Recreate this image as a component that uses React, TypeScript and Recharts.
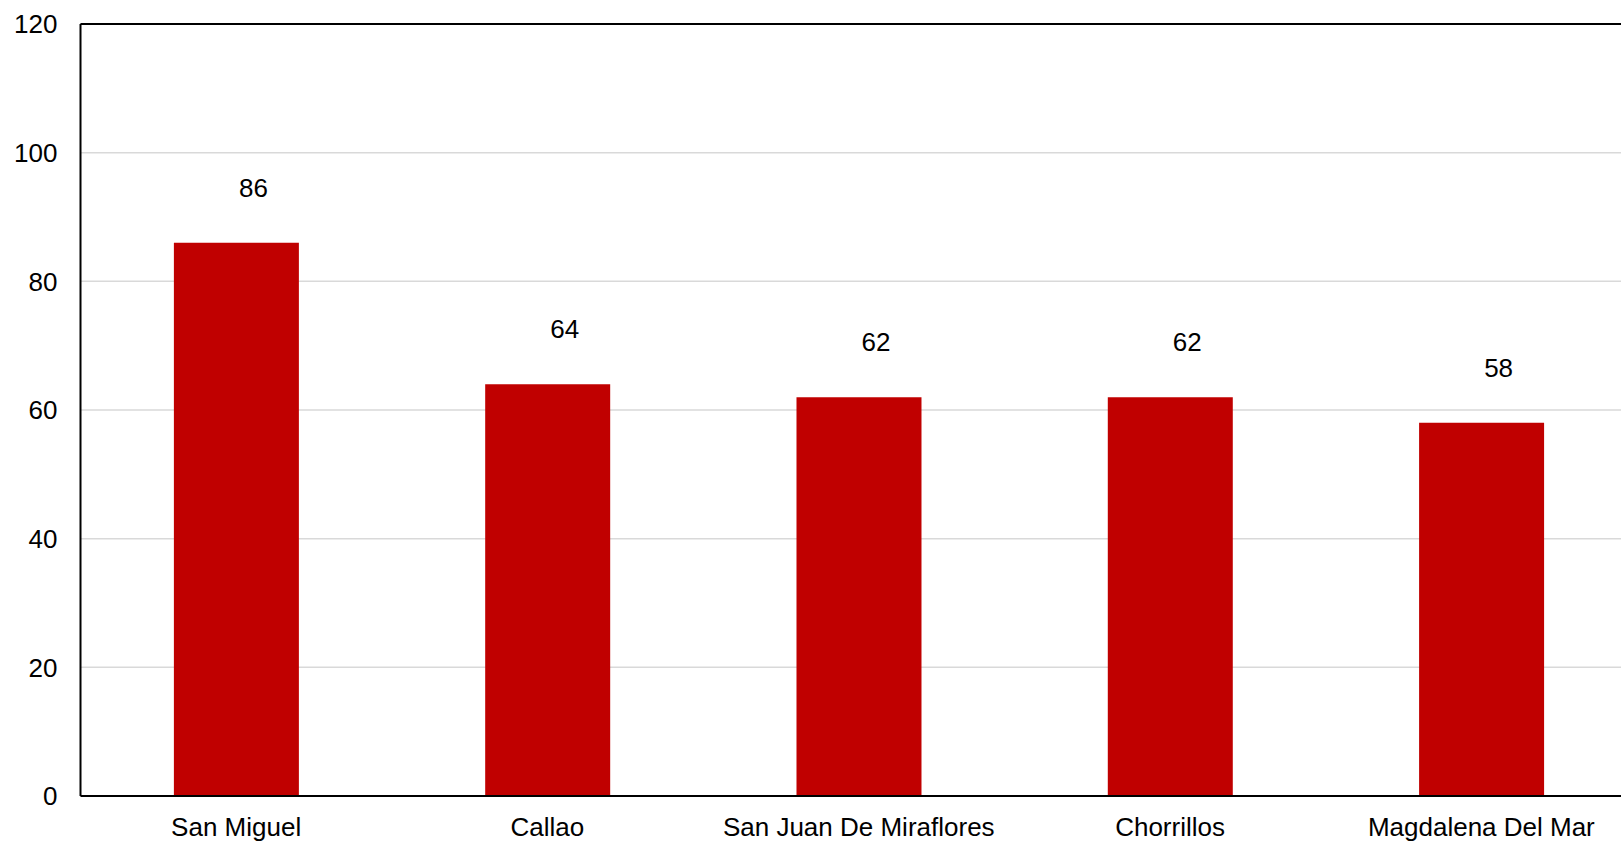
import { BarChart, Bar, XAxis, YAxis, CartesianGrid, ReferenceLine, LabelList } from 'recharts';

const districts = ['San Miguel', 'Callao', 'San Juan De Miraflores', 'Chorrillos', 'Magdalena Del Mar'];
const counts = [86, 64, 62, 62, 58];
const yTicks = [0, 20, 40, 60, 80, 100, 120];

const data = districts.map((name, i) => ({ name, value: counts[i] }));

const FONT = '"Liberation Sans", Arial, sans-serif';

function ValueLabel(props: any) {
  const { x, y, width, value } = props;
  return (
    <text
      x={x + width / 2 + 17}
      y={y - 55}
      textAnchor="middle"
      dominantBaseline="central"
      fontSize={26}
      fontFamily={FONT}
      fill="#000"
    >
      {value}
    </text>
  );
}

export default function App() {
  return (
    <div
      style={{
        position: 'absolute',
        left: 0,
        top: 0,
        width: 1621,
        height: 842,
        overflow: 'hidden',
        background: '#fff',
      }}
    >
      <BarChart
        width={1637}
        height={842}
        data={data}
        margin={{ top: 24, right: 0, bottom: 0, left: 0 }}
        barCategoryGap="30%"
      >
        <CartesianGrid vertical={false} stroke="#d9d9d9" strokeWidth={1.5} />
        <XAxis
          dataKey="name"
          height={46}
          axisLine={{ stroke: '#000', strokeWidth: 2 }}
          tickLine={false}
          tickMargin={16}
          interval={0}
          tick={{ fill: '#000', fontSize: 26, fontFamily: FONT }}
        />
        <YAxis
          width={80.5}
          domain={[0, 120]}
          ticks={yTicks}
          axisLine={{ stroke: '#000', strokeWidth: 2 }}
          tickLine={false}
          tickMargin={17}
          tick={{ fill: '#000', fontSize: 26, fontFamily: FONT }}
        />
        <ReferenceLine y={120} stroke="#000" strokeWidth={2} />
        <Bar dataKey="value" fill="#c00000" isAnimationActive={false}>
          <LabelList dataKey="value" content={ValueLabel} />
        </Bar>
      </BarChart>
    </div>
  );
}
